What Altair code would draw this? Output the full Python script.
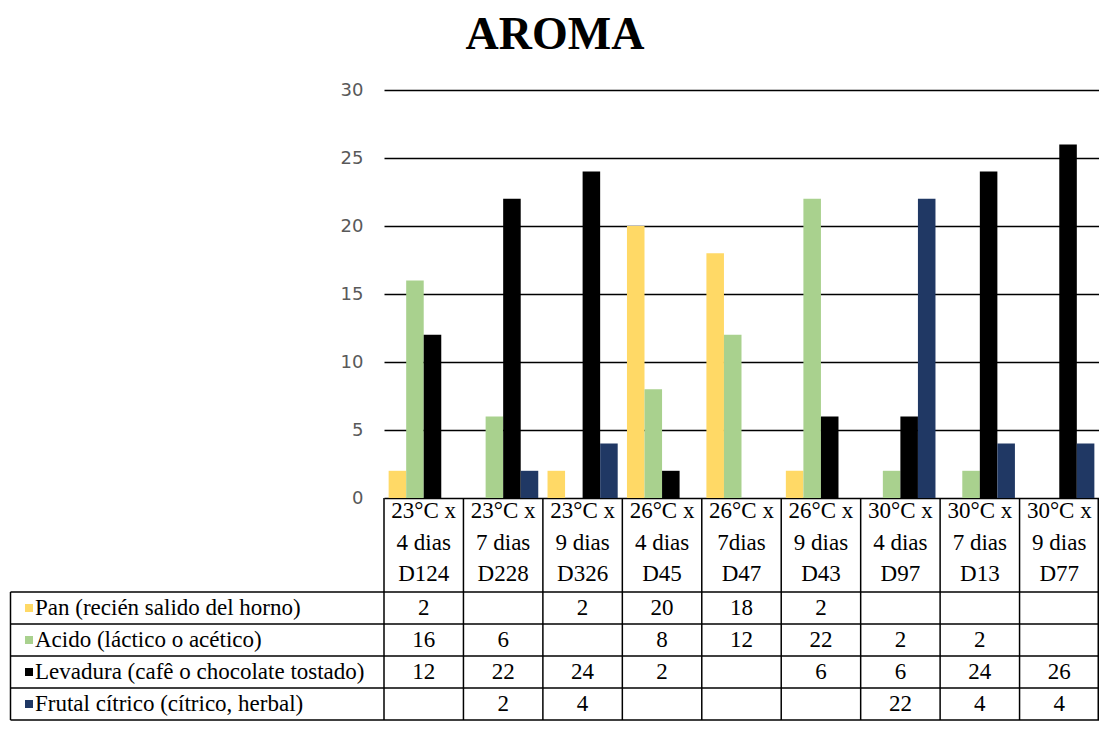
import altair as alt
import pandas as pd

# ---- data ----
categories = ["D124", "D228", "D326", "D45", "D47", "D43", "D97", "D13", "D77"]
conditions = ["23°C x", "23°C x", "23°C x", "26°C x", "26°C x", "26°C x", "30°C x", "30°C x", "30°C x"]
durations = ["4 dias", "7 dias", "9 dias", "4 dias", "7dias", "9 dias", "4 dias", "7 dias", "9 dias"]
series = [
    "Pan (recién salido del horno)",
    "Acido (láctico o acético)",
    "Levadura (cafê o chocolate tostado)",
    "Frutal cítrico (cítrico, herbal)",
]
pan = [2, None, 2, 20, 18, 2, None, None, None]
acido = [16, 6, None, 8, 12, 22, 2, 2, None]
levadura = [12, 22, 24, 2, None, 6, 6, 24, 26]
frutal = [None, 2, 4, None, None, None, 22, 4, 4]
colors = ["#FFD966", "#A9D18E", "#000000", "#203864"]
y_ticks = [0, 5, 10, 15, 20, 25, 30]
title_text = "AROMA"

# ---- layout constants (pixels, relative to plot area) ----
W = 715
H = 408
SERIF = "Liberation Serif"
TFS = 23
ROW_TOP, ROW_H = 502, 32
N_ROWS = len(series)
ROW_BOTTOM = ROW_TOP + ROW_H * N_ROWS
LEFT = -373.5

values_by_series = [pan, acido, levadura, frutal]
rows = []
for s, vals in zip(series, values_by_series):
    for c, v in zip(categories, vals):
        rows.append({"cat": c, "series": s, "value": v,
                     "label": "" if v is None else str(v)})
df = pd.DataFrame(rows)
df_bars = df.dropna(subset=["value"])

head_rows = []
for c, a, b in zip(categories, conditions, durations):
    head_rows += [{"cat": c, "line": 0, "text": a},
                  {"cat": c, "line": 1, "text": b},
                  {"cat": c, "line": 2, "text": c}]
df_head = pd.DataFrame(head_rows)
df_series = pd.DataFrame({"series": series})
df_cats = pd.DataFrame({"cat": categories})
df_hlines = pd.DataFrame({"b": list(range(N_ROWS + 1))})

xscale = alt.Scale(domain=categories, paddingInner=0, paddingOuter=0)
X = alt.X("cat:N", sort=categories, scale=xscale, axis=None)
color = alt.Color("series:N", scale=alt.Scale(domain=series, range=colors), legend=None)
row_y = alt.Y("series:N", sort=series,
              scale=alt.Scale(type="point", domain=series,
                              range=[ROW_TOP + ROW_H / 2, ROW_BOTTOM - ROW_H / 2], padding=0),
              axis=None)

bars = alt.Chart(df_bars).mark_bar().encode(
    x=X,
    xOffset=alt.XOffset("series:N", sort=series,
                        scale=alt.Scale(domain=series, paddingInner=0, paddingOuter=0.264)),
    y=alt.Y("value:Q", scale=alt.Scale(domain=[0, 30], nice=False),
            axis=alt.Axis(values=y_ticks, grid=True, gridColor="black", gridWidth=1.3,
                          gridOpacity=1, domain=False, ticks=False, labelColor="#595959",
                          labelFont="DejaVu Sans", labelFontSize=18, labelPadding=21,
                          title=None)),
    color=color,
)

header = alt.Chart(df_head).mark_text(font=SERIF, fontSize=TFS, color="black",
                                      baseline="middle", align="center").encode(
    x=X,
    y=alt.Y("line:O", scale=alt.Scale(type="point", domain=[0, 1, 2], range=[421, 484], padding=0),
            axis=None),
    text="text:N",
)

cells = alt.Chart(df).mark_text(font=SERIF, fontSize=TFS, color="black",
                                baseline="middle", align="center").encode(
    x=X, y=row_y, text="label:N",
)

swatches = alt.Chart(df_series).mark_square(size=64, opacity=1).encode(
    x=alt.value(-355), y=row_y, color=color,
)

labels = alt.Chart(df_series).mark_text(font=SERIF, fontSize=TFS, color="black",
                                        baseline="middle", align="left").encode(
    x=alt.value(-349), y=row_y, text="series:N",
)

hlines = alt.Chart(df_hlines).mark_rule(color="black", strokeWidth=1.5).encode(
    x=alt.value(LEFT), x2=alt.value(W),
    y=alt.Y("b:O", scale=alt.Scale(type="point", domain=list(range(N_ROWS + 1)),
                                   range=[ROW_TOP, ROW_BOTTOM], padding=0), axis=None),
)

vlines = alt.Chart(df_cats).mark_rule(color="black", strokeWidth=1.5).encode(
    x=alt.X("cat:N", sort=categories, scale=xscale, axis=None, bandPosition=0),
    y=alt.value(H), y2=alt.value(ROW_BOTTOM),
)

edges = alt.Chart(pd.DataFrame({"e": ["right"]})).mark_rule(color="black", strokeWidth=1.5).encode(
    x=alt.value(W - 0.75), y=alt.value(H), y2=alt.value(ROW_BOTTOM),
)
left_edge = alt.Chart(pd.DataFrame({"e": ["left"]})).mark_rule(color="black", strokeWidth=1.5).encode(
    x=alt.value(LEFT), y=alt.value(ROW_TOP), y2=alt.value(ROW_BOTTOM),
)

title = alt.Chart(pd.DataFrame({"t": [title_text]})).mark_text(
    font=SERIF, fontSize=46, fontWeight="bold", color="black",
    align="center", baseline="alphabetic").encode(
    x=alt.value(171), y=alt.value(-41), text="t:N",
)

chart = alt.layer(
    bars, header, cells, swatches, labels, hlines, vlines, edges, left_edge, title
).resolve_scale(y="independent").properties(
    width=W, height=H,
    autosize=alt.AutoSizeParams(type="none"),
    padding={"left": 376, "top": 82, "right": 0, "bottom": ROW_BOTTOM - H + 1},
    background="white",
).configure_view(stroke=None)

chart.save("out.html", embed_options={"renderer": "svg", "actions": False})
